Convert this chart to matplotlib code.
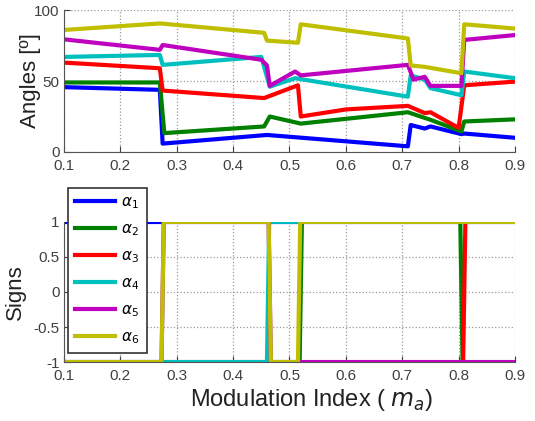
import numpy as np
from matplotlib import pyplot as plt

plt.rcParams["font.family"] = ["Liberation Sans", "DejaVu Sans"]

# Angle curves (x = modulation index, y = degrees)
a1_x = [0.1, 0.27, 0.275, 0.46, 0.71, 0.715, 0.74, 0.75, 0.805, 0.81, 0.9]
a1_y = [45.7, 43.8, 5.9, 12, 4, 19, 16.5, 18, 12.6, 13, 10]

a2_x = [0.1, 0.27, 0.278, 0.455, 0.465, 0.52, 0.71, 0.75, 0.805, 0.81, 0.9]
a2_y = [49, 49, 13.3, 18, 25, 20, 28, 22.7, 14.5, 21.5, 23]

a3_x = [0.1, 0.27, 0.275, 0.455, 0.515, 0.52, 0.6, 0.71, 0.74, 0.75, 0.8, 0.81, 0.9]
a3_y = [63, 59, 43.3, 38, 47, 25, 30, 32.5, 27.4, 28, 17, 47, 49.6]

a4_x = [0.1, 0.27, 0.275, 0.45, 0.465, 0.51, 0.71, 0.715, 0.74, 0.75, 0.805, 0.81, 0.9]
a4_y = [67, 68.4, 61.4, 67, 46, 52, 39, 54, 51, 45, 40, 56.7, 52]

a5_x = [0.1, 0.27, 0.275, 0.45, 0.46, 0.465, 0.51, 0.52, 0.71, 0.72, 0.74, 0.75, 0.805, 0.81, 0.9]
a5_y = [79.4, 72, 75.4, 65, 61, 46.6, 56.7, 54, 61.4, 51, 53, 46.6, 46.6, 79, 82.4]

a6_x = [0.1, 0.27, 0.455, 0.46, 0.515, 0.52, 0.71, 0.715, 0.74, 0.805, 0.81, 0.9]
a6_y = [86, 90.6, 84, 78.5, 77, 90, 80, 61, 60, 55.5, 90, 87]

# Sign switching points for each angle (value holds until the next switch)
a1_sw = [0.1]
a1_sg = [1]
a2_sw = [0.1, 0.518, 0.803]
a2_sg = [-1, 1, -1]
a3_sw = [0.1, 0.808]
a3_sg = [-1, 1]
a4_sw = [0.1, 0.46]
a4_sg = [-1, 1]
a5_sw = [0.1, 0.273, 0.463]
a5_sg = [-1, 1, -1]
a6_sw = [0.1, 0.273, 0.463, 0.515]
a6_sg = [-1, 1, -1, 1]

labels = [r"$\alpha_1$", r"$\alpha_2$", r"$\alpha_3$", r"$\alpha_4$", r"$\alpha_5$", r"$\alpha_6$"]
colors = ["#0000ff", "#008000", "#ff0000", "#00bfbf", "#bf00bf", "#bfbf00"]

angle_x = [a1_x, a2_x, a3_x, a4_x, a5_x, a6_x]
angle_y = [a1_y, a2_y, a3_y, a4_y, a5_y, a6_y]
sign_sw = [a1_sw, a2_sw, a3_sw, a4_sw, a5_sw, a6_sw]
sign_sg = [a1_sg, a2_sg, a3_sg, a4_sg, a5_sg, a6_sg]


def step_line(sw, sg, xmax=0.9, ramp=0.004):
    # turn switch points into a step line with short (almost vertical) ramps
    xs, ys = [sw[0]], [sg[0]]
    for i in range(1, len(sw)):
        xs += [sw[i], sw[i] + ramp]
        ys += [sg[i - 1], sg[i]]
    xs.append(xmax)
    ys.append(sg[-1])
    return xs, ys


fig = plt.figure(figsize=(5.35, 4.21), dpi=100)
ax1 = fig.add_axes([0.1196, 0.639, 0.843, 0.337])
ax2 = fig.add_axes([0.1196, 0.140, 0.843, 0.333])

for i in range(6):
    ax1.plot(angle_x[i], angle_y[i], color=colors[i], lw=3)
    sx, sy = step_line(sign_sw[i], sign_sg[i])
    ax2.plot(sx, sy, color=colors[i], lw=3, label=labels[i])

tick_color = "#404040"
for ax in (ax1, ax2):
    ax.set_xlim(0.1, 0.9)
    ax.set_xticks(np.arange(0.1, 0.91, 0.1))
    ax.set_xticklabels(["0.1", "0.2", "0.3", "0.4", "0.5", "0.6", "0.7", "0.8", "0.9"])
    ax.grid(True, linestyle=":", color="#999999", lw=0.9)
    ax.spines["top"].set_visible(False)
    ax.spines["right"].set_visible(False)
    ax.spines["left"].set_color("#555555")
    ax.spines["bottom"].set_color("#555555")
    ax.tick_params(direction="in", length=4, labelsize=11, colors=tick_color, pad=3)
    ax.tick_params(axis="x", pad=5)

ax1.set_ylim(0, 100)
ax1.set_yticks([0, 50, 100])
ax1.set_ylabel("Angles [º]", fontsize=16, color="#222222")
ax1.yaxis.set_label_coords(-0.052, 0.5)

ax2.set_ylim(-1, 1)
ax2.set_yticks([-1, -0.5, 0, 0.5, 1])
ax2.set_yticklabels(["-1", "-0.5", "0", "0.5", "1"])
ax2.set_ylabel("Signs", fontsize=16, color="#222222")
ax2.yaxis.set_label_coords(-0.085, 0.5)
ax2.set_xlabel("Modulation Index ( $m_a$)", fontsize=17, color="#222222", labelpad=3)
ax2.xaxis.label.set_x(0.55)

leg = ax2.legend(loc="upper left", bbox_to_anchor=(68 / 535, 1 - 188 / 421),
                 bbox_transform=fig.transFigure, borderaxespad=0, fontsize=11,
                 labelspacing=0.75, handlelength=2.6, handletextpad=0.45,
                 borderpad=0.45, fancybox=False, framealpha=1, edgecolor="#333333")
leg.get_frame().set_linewidth(1.2)
leg.set_zorder(10)

plt.savefig("out.png", dpi=100)
plt.close()
